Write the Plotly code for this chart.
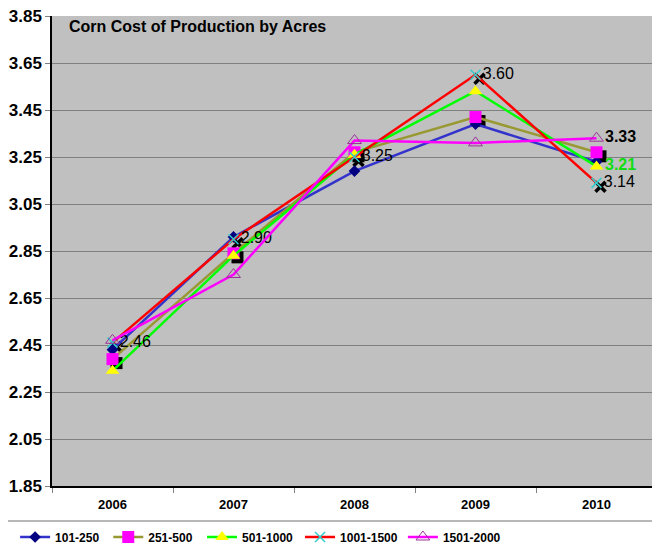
import plotly.graph_objects as go

years = ["2006", "2007", "2008", "2009", "2010"]
s_101_250 = [2.43, 2.91, 3.19, 3.39, 3.23]
s_251_500 = [2.39, 2.84, 3.27, 3.42, 3.27]
s_501_1000 = [2.34, 2.83, 3.26, 3.53, 3.21]
s_1001_1500 = [2.46, 2.90, 3.25, 3.60, 3.14]
s_1501_2000 = [2.47, 2.75, 3.32, 3.31, 3.33]

FONT = "Arial, Liberation Sans, sans-serif"
Y0, Y1 = 1.85, 3.85

# pixel shift of the black drop shadows behind squares and crosses
sx, sy = 4, 4
cat_px = 605 / 5
y_px = (Y1 - Y0) / 470

fig = go.Figure()

# invisible trace so the base axes (grid, ticks) get drawn
fig.add_trace(go.Scatter(
    x=years, y=s_101_250, mode="lines", opacity=0, showlegend=False, hoverinfo="skip",
))

# shadows, on an overlay axis pair shifted a few pixels right/down
fig.add_trace(go.Scatter(
    x=years, y=s_251_500, mode="markers", xaxis="x2", yaxis="y2", showlegend=False,
    marker={"symbol": "square", "size": 12, "color": "black"}, hoverinfo="skip",
))
fig.add_trace(go.Scatter(
    x=years, y=s_1001_1500, mode="markers", xaxis="x2", yaxis="y2", showlegend=False,
    marker={"symbol": "x-thin", "size": 10, "color": "black",
            "line": {"width": 3.5, "color": "black"}}, hoverinfo="skip",
))

fig.add_trace(go.Scatter(
    x=years, y=s_101_250, mode="lines+markers", name="101-250", xaxis="x3", yaxis="y3",
    legend="legend",
    line={"color": "#3333CC", "width": 2.5},
    marker={"symbol": "diamond", "size": 9, "color": "#000080"},
))
fig.add_trace(go.Scatter(
    x=years, y=s_251_500, mode="lines+markers", name="251-500", xaxis="x3", yaxis="y3",
    legend="legend2",
    line={"color": "#999933", "width": 2.5},
    marker={"symbol": "square", "size": 12, "color": "#FF00FF"},
))
fig.add_trace(go.Scatter(
    x=years, y=s_501_1000, mode="lines+markers+text", name="501-1000", xaxis="x3", yaxis="y3",
    legend="legend3",
    line={"color": "#00FF00", "width": 2.5},
    marker={"symbol": "triangle-up", "size": 12, "color": "#FFFF00"},
    text=["", "", "", "", "<b>3.21</b>"], textposition="middle right",
    textfont={"family": FONT, "size": 16, "color": "#11DD11"},
))
fig.add_trace(go.Scatter(
    x=years, y=s_1001_1500, mode="lines+markers+text", name="1001-1500", xaxis="x3", yaxis="y3",
    legend="legend4",
    line={"color": "#FF0000", "width": 2.5},
    marker={"symbol": "x-thin", "size": 10, "color": "#33CCCC",
            "line": {"width": 1.5, "color": "#33CCCC"}},
    text=[f"{v:.2f}" for v in s_1001_1500], textposition="middle right",
    textfont={"family": FONT, "size": 16, "color": "black"},
))
fig.add_trace(go.Scatter(
    x=years, y=s_1501_2000, mode="lines+markers+text", name="1501-2000", xaxis="x3", yaxis="y3",
    legend="legend5",
    line={"color": "#FF00FF", "width": 2.5},
    marker={"symbol": "triangle-up-open", "size": 12, "color": "#993399",
            "line": {"width": 1, "color": "#993399"}},
    text=["", "", "", "", "<b>3.33</b>"], textposition="middle right",
    textfont={"family": FONT, "size": 16, "color": "black"},
))


def legend_at(x):
    return {
        "orientation": "h", "x": x, "xanchor": "left", "y": -0.1085, "yanchor": "middle",
        "font": {"size": 12, "family": FONT, "weight": "bold"},
        "bgcolor": "rgba(0,0,0,0)",
    }


hidden = {"visible": False, "showgrid": False, "zeroline": False}
# the page body has an 8px margin, so the figure is laid out 8px up/left of the target spots
fig.update_layout(
    width=660,
    height=545,
    paper_bgcolor="white",
    plot_bgcolor="#C0C0C0",
    margin={"l": 44, "r": 11, "t": 8, "b": 67, "autoexpand": False},
    font={"family": FONT, "color": "black"},
    xaxis={
        "type": "category", "categoryorder": "array", "categoryarray": years,
        "range": [-0.5, 4.5], "tickson": "boundaries", "ticks": "outside",
        "ticklen": 5, "tickcolor": "#808080", "showgrid": False,
        "showline": True, "linecolor": "black", "linewidth": 1.5,
        "ticklabelstandoff": 6,
        "tickfont": {"size": 13, "family": FONT, "weight": "bold"},
    },
    yaxis={
        "range": [Y0, Y1], "tick0": Y0, "dtick": 0.2, "tickformat": ".2f",
        "ticks": "outside", "ticklen": 5, "tickcolor": "#808080",
        "showgrid": True, "gridcolor": "#808080", "gridwidth": 1, "zeroline": False,
        "showline": True, "linecolor": "black", "linewidth": 1.5,
        "ticklabeloverflow": "allow",
        "tickfont": {"size": 17, "family": FONT, "weight": "bold"},
    },
    xaxis2={"type": "category", "overlaying": "x", "anchor": "y2",
            "range": [-0.5 - sx / cat_px, 4.5 - sx / cat_px], **hidden},
    yaxis2={"overlaying": "y", "anchor": "x2",
            "range": [Y0 + sy * y_px, Y1 + sy * y_px], **hidden},
    xaxis3={"type": "category", "overlaying": "x", "anchor": "y3", "range": [-0.5, 4.5], **hidden},
    yaxis3={"overlaying": "y", "anchor": "x3", "range": [Y0, Y1], **hidden},
    legend=legend_at(-0.061),
    legend2=legend_at(0.093),
    legend3=legend_at(0.248),
    legend4=legend_at(0.410),
    legend5=legend_at(0.580),
    annotations=[{
        "text": "<b>Corn Cost of Production by Acres</b>", "xref": "paper", "yref": "paper",
        "x": 0.024, "y": 0.977, "xanchor": "left", "yanchor": "middle", "showarrow": False,
        "font": {"size": 16, "family": FONT, "color": "black"},
    }],
    shapes=[
        {"type": "line", "xref": "paper", "yref": "paper", "x0": -0.08, "x1": 1.02,
         "y0": -0.0745, "y1": -0.0745, "line": {"color": "#A0A0A0", "width": 1.5}},
        {"type": "line", "xref": "paper", "yref": "paper", "x0": 1, "x1": 1,
         "y0": 0, "y1": 1, "line": {"color": "#808080", "width": 1}, "layer": "below"},
    ],
)

fig.write_html("out.html")
